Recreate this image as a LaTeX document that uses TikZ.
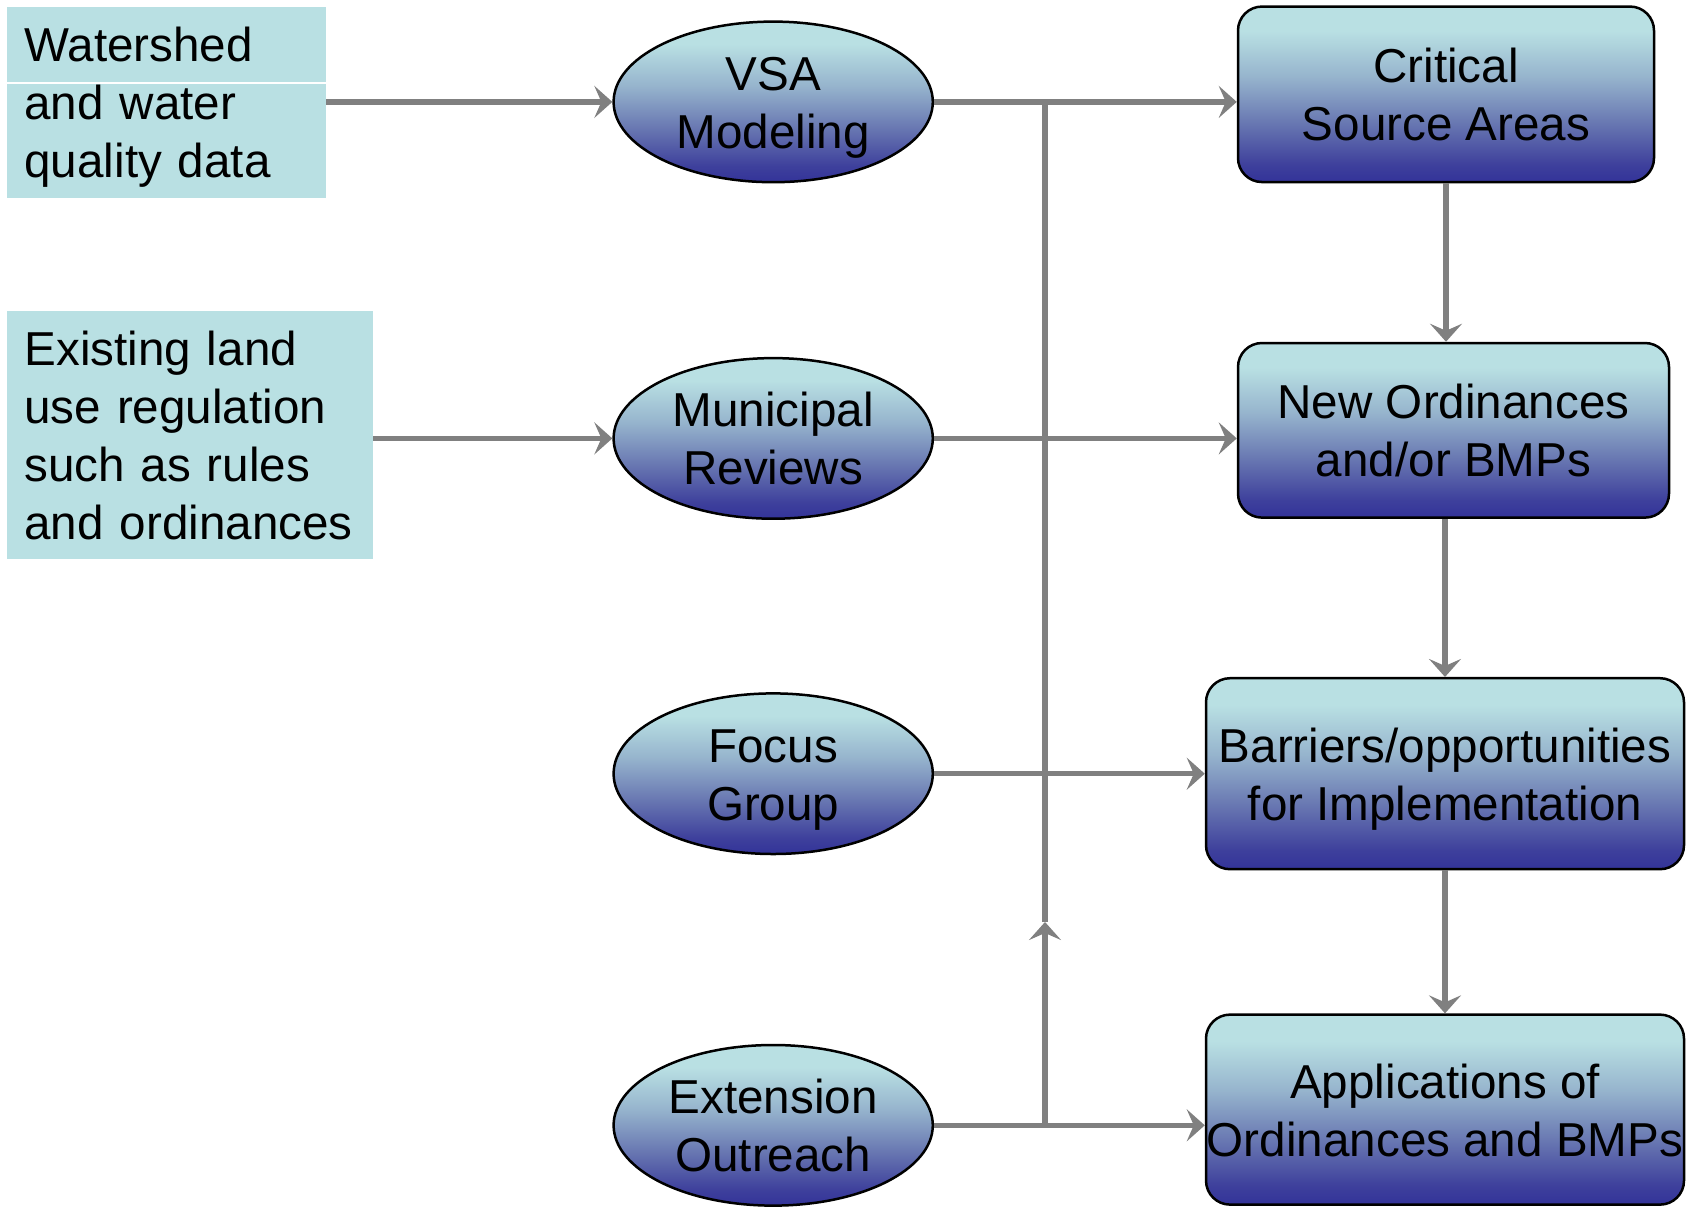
\documentclass[tikz,border=0pt]{standalone}
\usepackage{fontspec}
\setmainfont{Liberation Sans}
\usetikzlibrary{arrows.meta,shapes.geometric}
\definecolor{ltcyan}{RGB}{185,224,227}
\definecolor{dkblue}{RGB}{51,51,153}
\definecolor{cA}{RGB}{62,64,156}
\definecolor{cB}{RGB}{105,120,178}
\definecolor{cC}{RGB}{150,180,205}
\definecolor{lnk}{RGB}{128,128,128}
\pgfdeclareverticalshading{blueshade}{100bp}{color(0bp)=(dkblue); color(25bp)=(dkblue); color(30bp)=(cA); color(42bp)=(cB); color(55bp)=(cC); color(68bp)=(ltcyan); color(100bp)=(ltcyan)}
\newcommand{\Tstr}{\rule{0pt}{24pt}}
\newcommand{\Bstr}{\rule[-6.6pt]{0pt}{6.6pt}}
\begin{document}
\begin{tikzpicture}[x=0.5pt,y=-0.5pt,
  every node/.style={font=\fontsize{23.8}{29}\selectfont, text=black},
  src/.style={rectangle, fill=ltcyan, inner xsep=9pt, inner ysep=0pt, align=left},
  oval/.style={ellipse, draw=black, line width=1.25pt, shade, shading=blueshade, inner xsep=0pt, inner ysep=-6pt, minimum width=159.6pt, minimum height=80.3pt, align=center},
  res/.style={rectangle, rounded corners=12pt, draw=black, line width=1.25pt, shade, shading=blueshade, inner sep=0pt, align=center},
  conn/.style={draw=lnk, line width=2.6pt},
  arr/.style={conn, -{Stealth[length=9pt,width=16pt,inset=3.5pt]}}
]
\useasboundingbox (0,0) rectangle (1691,1211);
\fill[white] (0,0) rectangle (1691,1211);

% source boxes
\node[src, minimum width=159.6pt, minimum height=95.95pt, text width=141.6pt] (wq) at (166.1,102.45) {\Tstr Watershed\\and water\\quality data\Bstr};
\node[src, minimum width=183.25pt, minimum height=124pt, text width=165.25pt] (ex) at (189.75,434.6) {\Tstr Existing land\\use regulation\\such as rules\\and ordinances\Bstr};
\coordinate (wl) at (0,83);
\draw[white, line width=0.6pt] (wq.west |- wl) -- (wq.east |- wl);

% ovals
\node[oval] (vsa) at (773.2,101.9) {\Tstr VSA\\Modeling\Bstr};
\node[oval] (mun) at (773.2,438.4) {\Tstr Municipal\\Reviews\Bstr};
\node[oval] (foc) at (773.2,773.7) {\Tstr Focus\\Group\Bstr};
\node[oval] (ext) at (773.2,1125.3) {\Tstr Extension\\Outreach\Bstr};

% result boxes
\node[res, minimum width=208pt, minimum height=87.75pt] (crit) at (1446,94.3) {\Tstr Critical\\Source Areas\Bstr};
\node[res, minimum width=215.5pt, minimum height=87.3pt] (newo) at (1453.5,430.3) {\Tstr New Ordinances\\and/or BMPs\Bstr};
\node[res, minimum width=239pt, minimum height=95.5pt] (barr) at (1445,773.7) {\Tstr Barriers/opportunities\\for Implementation\Bstr};
\node[res, minimum width=239pt, minimum height=95pt] (appl) at (1445,1109.6) {\Tstr Applications of\\Ordinances and BMPs\Bstr};

% connectors
\draw[arr] (wq.east |- vsa.west) -- (vsa.west);
\draw[arr] (ex.east |- mun.west) -- (mun.west);
\draw[arr] (vsa.east) -- (vsa.east -| crit.west);
\draw[arr] (mun.east) -- (mun.east -| newo.west);
\draw[arr] (foc.east) -- (foc.east -| barr.west);
\draw[arr] (ext.east) -- (ext.east -| appl.west);

\coordinate (jx) at (1045,0);
\coordinate (jmid) at (1045,922);
\draw[arr] (jx |- ext.east) -- (jmid);
\draw[conn] (jmid) -- (jx |- vsa.east);

\draw[arr] (crit.south) -- (crit.south |- newo.north);
\draw[arr] (barr.north |- newo.south) -- (barr.north);
\draw[arr] (barr.south) -- (appl.north);
\end{tikzpicture}
\end{document}
